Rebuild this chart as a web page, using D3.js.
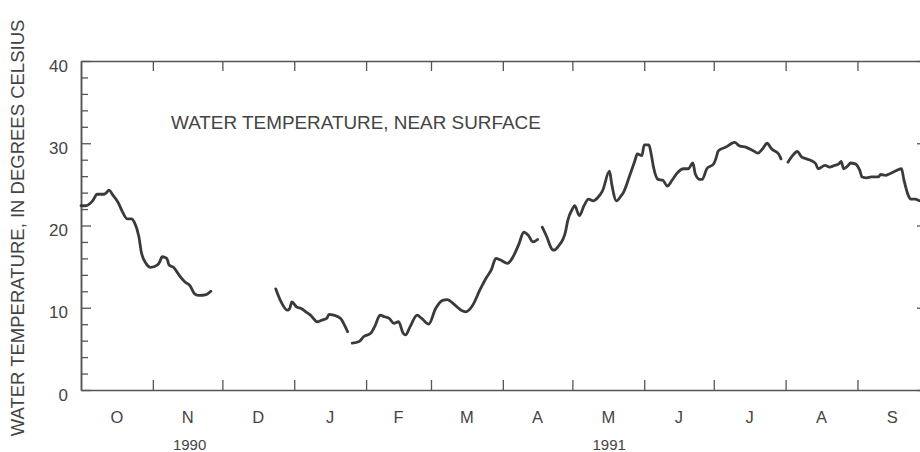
<!DOCTYPE html>
<html>
<head>
<meta charset="utf-8">
<script src="https://cdn.jsdelivr.net/npm/d3@7"></script>
<style>
  html, body { margin: 0; padding: 0; background: #fff; }
  svg { display: block; }
  text { font-family: "Liberation Sans", Arial, Helvetica, sans-serif; fill: #444; }
</style>
</head>
<body>
<svg id="chart" width="920" height="452"></svg>
<script>
// ---- data ----
const dates = [
  "1990-10-01","1990-10-03","1990-10-06","1990-10-08","1990-10-11","1990-10-12","1990-10-13","1990-10-15",
  "1990-10-17","1990-10-19","1990-10-21","1990-10-23","1990-10-24","1990-10-26","1990-10-27","1990-10-29",
  "1990-10-31","1990-11-03","1990-11-04","1990-11-05","1990-11-07","1990-11-08","1990-11-10","1990-11-12",
  "1990-11-15","1990-11-17","1990-11-19","1990-11-21","1990-11-24","1990-11-26","1990-12-10",
  "1990-12-24","1990-12-26","1990-12-29","1990-12-30","1990-12-31","1991-01-02","1991-01-04","1991-01-06",
  "1991-01-08","1991-01-11","1991-01-13","1991-01-15","1991-01-16","1991-01-18","1991-01-21","1991-01-23",
  "1991-01-24","1991-01-25",
  "1991-01-26","1991-01-29","1991-01-31","1991-02-03","1991-02-05","1991-02-07","1991-02-09","1991-02-11",
  "1991-02-13","1991-02-15","1991-02-17","1991-02-18","1991-02-20","1991-02-23","1991-02-25","1991-02-28",
  "1991-03-03","1991-03-06","1991-03-08","1991-03-11","1991-03-14","1991-03-16","1991-03-19","1991-03-22",
  "1991-03-25","1991-03-27","1991-03-29","1991-03-31","1991-04-03","1991-04-05","1991-04-08","1991-04-10",
  "1991-04-12","1991-04-14","1991-04-16","1991-04-17",
  "1991-04-18","1991-04-20","1991-04-22","1991-04-23","1991-04-25","1991-04-28","1991-04-29","1991-05-01",
  "1991-05-02","1991-05-04","1991-05-06","1991-05-08","1991-05-10","1991-05-12","1991-05-14","1991-05-17",
  "1991-05-18","1991-05-20","1991-05-22","1991-05-23","1991-05-26","1991-05-28","1991-05-29","1991-05-31",
  "1991-06-01","1991-06-03","1991-06-04","1991-06-05","1991-06-07","1991-06-09","1991-06-11","1991-06-13",
  "1991-06-15","1991-06-18","1991-06-20","1991-06-22","1991-06-23","1991-06-25","1991-06-26","1991-06-28",
  "1991-07-01","1991-07-02","1991-07-03","1991-07-06","1991-07-10","1991-07-12","1991-07-15","1991-07-18",
  "1991-07-20","1991-07-22","1991-07-24","1991-07-26","1991-07-29","1991-07-30","1991-08-01",
  "1991-08-02","1991-08-04","1991-08-06","1991-08-08","1991-08-10","1991-08-12","1991-08-14","1991-08-15",
  "1991-08-18","1991-08-20","1991-08-22","1991-08-24","1991-08-25","1991-08-26","1991-08-28","1991-08-29",
  "1991-08-31","1991-09-02","1991-09-03","1991-09-05","1991-09-07","1991-09-10","1991-09-11","1991-09-13",
  "1991-09-15","1991-09-18","1991-09-20","1991-09-21","1991-09-23","1991-09-24","1991-09-26","1991-09-28",
  "1991-09-30"
];
const temps = [
  22.4,22.4,23.0,23.8,23.8,24.0,24.3,23.6,
  22.8,21.6,20.8,20.8,20.4,18.6,16.8,15.4,
  14.9,15.2,15.6,16.2,16.0,15.2,14.9,14.1,
  13.1,12.7,11.7,11.5,11.6,12.0,null,
  12.3,10.9,9.7,9.9,10.7,10.1,9.9,9.5,
  9.1,8.3,8.5,8.7,9.2,9.1,8.7,7.7,
  7.1,null,
  5.7,5.9,6.5,6.9,7.9,9.1,8.9,8.7,
  8.1,8.3,6.9,6.7,7.7,9.1,8.7,8.0,
  9.9,10.9,11.0,10.4,9.7,9.5,10.3,12.1,
  13.7,14.6,16.0,15.8,15.4,16.0,17.8,19.2,
  18.8,18.0,18.3,null,
  19.8,18.6,17.2,17.0,17.5,19.2,20.6,22.0,
  22.4,21.2,22.4,23.2,23.0,23.4,24.2,26.6,
  25.0,23.0,23.6,24.0,26.3,27.9,28.7,28.5,
  29.8,29.8,28.7,27.1,25.6,25.5,24.8,25.5,
  26.3,26.9,26.9,27.6,26.3,25.6,25.6,26.9,
  27.5,28.2,29.1,29.5,30.1,29.7,29.5,29.1,
  28.8,29.3,30.0,29.3,28.7,28.1,null,
  27.7,28.5,29.0,28.3,28.1,27.9,27.5,26.9,
  27.3,27.1,27.3,27.5,27.8,26.9,27.3,27.6,
  27.5,26.7,25.9,25.8,25.9,25.9,26.2,26.1,
  26.3,26.7,26.9,25.6,23.6,23.2,23.2,23.0,
  23.0
];
const monthStarts = ["1990-10-01","1990-11-01","1990-12-01","1991-01-01","1991-02-01","1991-03-01",
  "1991-04-01","1991-05-01","1991-06-01","1991-07-01","1991-08-01","1991-09-01","1991-10-01"];
const monthLabels = ["O","N","D","J","F","M","A","M","J","J","A","S"];
const yearLabels = ["1990","1991"];
const yearLabelMonths = ["1990-11-16","1991-05-16"];
const yTicks = [0,10,20,30,40];
const yMinorTicks = [2,4,6,8,12,14,16,18,22,24,26,28,32,34,36,38];
const yTitle = "WATER TEMPERATURE, IN DEGREES CELSIUS";
const chartTitle = "WATER TEMPERATURE, NEAR SURFACE";

// ---- layout ----
const parse = d3.utcParse("%Y-%m-%d");
const L = 81, R = 927, T = 61, B = 390;
const svg = d3.select("#chart");
const x = d3.scaleUtc().domain([parse("1990-10-01"), parse("1991-10-01")]).range([L, R]);
const y = d3.scaleLinear().domain([0, 40]).range([B, T]);
const axisColor = "#555";

const monthDates = monthStarts.map(parse);
const innerMonths = monthDates.slice(1, -1);

function style(g) {
  g.selectAll(".domain").attr("stroke", axisColor).attr("stroke-width", 1.5);
  g.selectAll(".tick line").attr("stroke", axisColor).attr("stroke-width", 1.3);
}

// bottom axis
svg.append("g").attr("transform", `translate(0,${B})`)
  .call(d3.axisBottom(x).tickValues(innerMonths).tickSizeInner(-10).tickSizeOuter(0).tickFormat(""))
  .call(style);
// top axis
svg.append("g").attr("transform", `translate(0,${T})`)
  .call(d3.axisTop(x).tickValues(innerMonths).tickSizeInner(-10).tickSizeOuter(0).tickFormat(""))
  .call(style);
// left axis major
const yl = svg.append("g").attr("transform", `translate(${L},0)`)
  .call(d3.axisLeft(y).tickValues(yTicks).tickSizeInner(-10).tickSizeOuter(0).tickPadding(13))
  .call(style);
yl.selectAll("text").attr("font-size", 17).attr("dy", "0.6em").style("fill", "#444")
  .style("font-family", '"Liberation Sans", Arial, sans-serif');
// left minor
svg.append("g").attr("transform", `translate(${L},0)`)
  .call(d3.axisLeft(y).tickValues(yMinorTicks).tickSizeInner(-7).tickSizeOuter(0).tickFormat(""))
  .call(style);
// right axis major + minor
svg.append("g").attr("transform", `translate(${R},0)`)
  .call(d3.axisRight(y).tickValues(yTicks).tickSizeInner(-10).tickSizeOuter(0).tickFormat(""))
  .call(style);
svg.append("g").attr("transform", `translate(${R},0)`)
  .call(d3.axisRight(y).tickValues(yMinorTicks).tickSizeInner(-7).tickSizeOuter(0).tickFormat(""))
  .call(style);

// month labels (centered in month)
svg.append("g").selectAll("text").data(monthLabels).join("text")
  .attr("x", (d, i) => (x(monthDates[i]) + x(monthDates[i + 1])) / 2)
  .attr("y", 423)
  .attr("text-anchor", "middle")
  .attr("font-size", 16.5)
  .text(d => d);

// year labels
svg.append("g").selectAll("text").data(yearLabels).join("text")
  .attr("x", (d, i) => x(parse(yearLabelMonths[i])) + 2)
  .attr("y", 450)
  .attr("text-anchor", "middle")
  .attr("font-size", 15)
  .text(d => d);

// y title
svg.append("text")
  .attr("transform", `translate(24,${228}) rotate(-90)`)
  .attr("text-anchor", "middle")
  .attr("font-size", 18.5)
  .text(yTitle);

// chart title
svg.append("text")
  .attr("x", 171).attr("y", 129)
  .attr("font-size", 18.9)
  .text(chartTitle);

// line
const data = dates.map((d, i) => ({ date: parse(d), value: temps[i] }));
const line = d3.line()
  .defined(d => d.value !== null)
  .x(d => x(d.date))
  .y(d => y(d.value))
  .curve(d3.curveMonotoneX);
svg.append("path")
  .datum(data)
  .attr("fill", "none")
  .attr("stroke", "#3a3a3a")
  .attr("stroke-width", 2.8)
  .attr("stroke-linejoin", "round")
  .attr("stroke-linecap", "round")
  .attr("d", line);
</script>
</body>
</html>
